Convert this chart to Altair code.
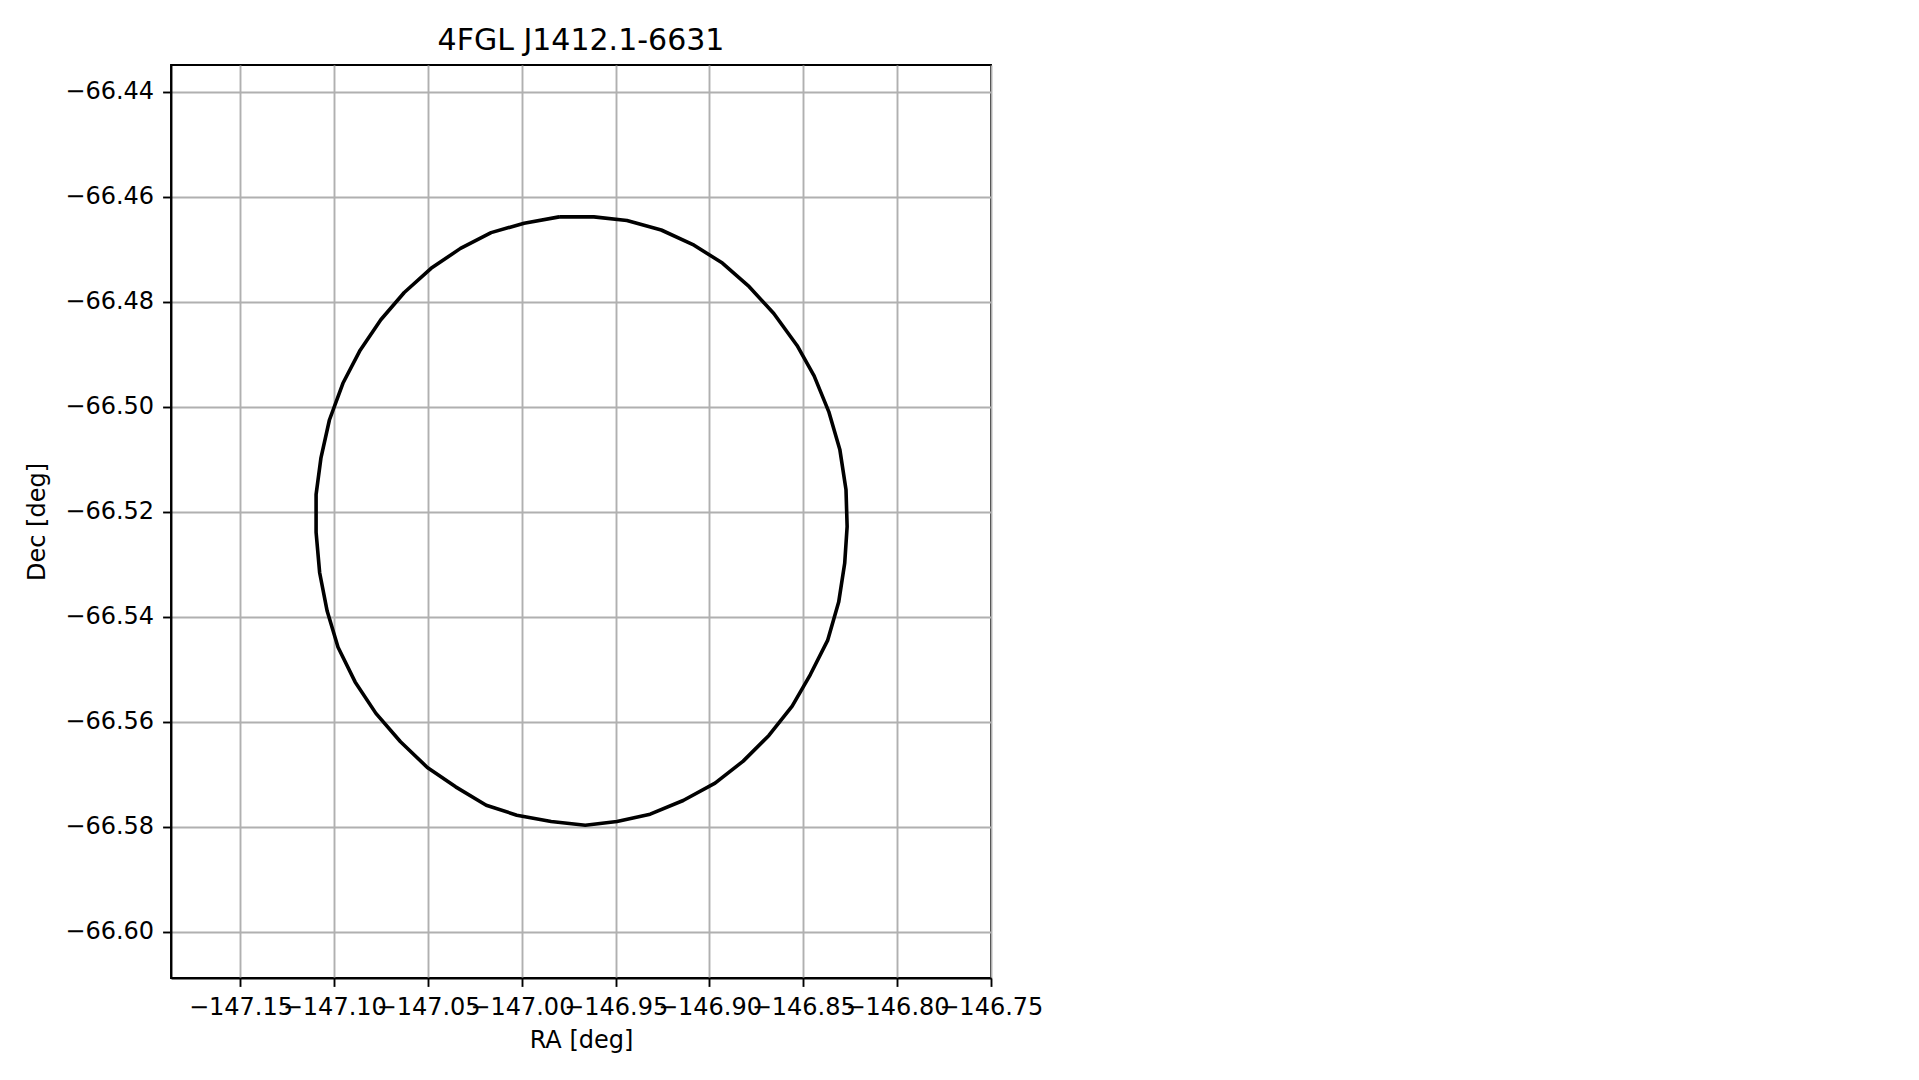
import altair as alt
import pandas as pd

# Ellipse vertices (RA, Dec in degrees)
ra = [-146.9801, -146.9616, -146.9440, -146.9257, -146.9082, -146.8931, -146.8788,
      -146.8657, -146.8533, -146.8442, -146.8364, -146.8305, -146.8272, -146.8266,
      -146.8279, -146.8311, -146.8370, -146.8462, -146.8559, -146.8683, -146.8820,
      -146.8970, -146.9140, -146.9316, -146.9493, -146.9662, -146.9844, -147.0027,
      -147.0190, -147.0353, -147.0504, -147.0647, -147.0778, -147.0889, -147.0980,
      -147.1038, -147.1078, -147.1097, -147.1097, -147.1071, -147.1026, -147.0954,
      -147.0862, -147.0752, -147.0627, -147.0484, -147.0327, -147.0164, -146.9988]
dec = [-66.4638, -66.4638, -66.4645, -66.4663, -66.4692, -66.4726, -66.4771,
       -66.4822, -66.4883, -66.4941, -66.5009, -66.5081, -66.5158, -66.5228,
       -66.5298, -66.5372, -66.5445, -66.5510, -66.5570, -66.5626, -66.5675,
       -66.5717, -66.5750, -66.5776, -66.5790, -66.5797, -66.5790, -66.5778,
       -66.5759, -66.5724, -66.5687, -66.5638, -66.5584, -66.5524, -66.5458,
       -66.5389, -66.5316, -66.5239, -66.5167, -66.5097, -66.5025, -66.4955,
       -66.4892, -66.4834, -66.4782, -66.4736, -66.4698, -66.4668, -66.4650]

x_ticks = [-147.15, -147.10, -147.05, -147.00, -146.95, -146.90, -146.85, -146.80, -146.75]
y_ticks = [-66.60, -66.58, -66.56, -66.54, -66.52, -66.50, -66.48, -66.46, -66.44]
x_domain = [-147.18705, -146.7499]
y_domain = [-66.60882, -66.43486]
chart_title = "4FGL J1412.1-6631"
x_label = "RA [deg]"
y_label = "Dec [deg]"

ra_closed = ra + ra[:1]
dec_closed = dec + dec[:1]
df = pd.DataFrame({"ra": ra_closed, "dec": dec_closed, "i": list(range(len(ra_closed)))})

FONT = "DejaVu Sans"
W, H = 820, 913

chart = alt.Chart(df).mark_line(
    color="black", strokeWidth=3.6, strokeJoin="round"
).encode(
    x=alt.X("ra:Q",
            scale=alt.Scale(domain=x_domain, nice=False, zero=False),
            axis=alt.Axis(values=x_ticks, format=".2f", title=x_label,
                          labelOverlap=False, labelFlush=False, labelPadding=9,
                          titleY=69, titleBaseline="alphabetic")),
    y=alt.Y("dec:Q",
            scale=alt.Scale(domain=y_domain, nice=False, zero=False),
            axis=alt.Axis(values=y_ticks, format=".2f", title=y_label,
                          labelOverlap=False, labelFlush=False, labelPadding=9,
                          titleX=-127, titleY=H / 2, titleBaseline="alphabetic")),
    order="i:Q",
).properties(
    width=W, height=H,
    title=alt.TitleParams(text=chart_title, font=FONT, fontSize=30, fontWeight="normal",
                          color="black", offset=15, dy=30, baseline="alphabetic",
                          anchor="middle"),
    autosize=alt.AutoSizeParams(type="none"),
    padding={"left": 163, "top": 57, "right": 120, "bottom": 80},
).configure_view(
    stroke="black", strokeWidth=1.9
).configure_axis(
    grid=True, gridColor="#b0b0b0", gridWidth=1.9,
    domainColor="black", domainWidth=1.9,
    tickColor="black", tickWidth=1.9, tickSize=8.4,
    labelFont=FONT, labelFontSize=24, labelColor="black",
    titleFont=FONT, titleFontSize=24, titleFontWeight="normal", titleColor="black",
)

chart.save("out.html", embed_options={"renderer": "svg", "actions": False})
